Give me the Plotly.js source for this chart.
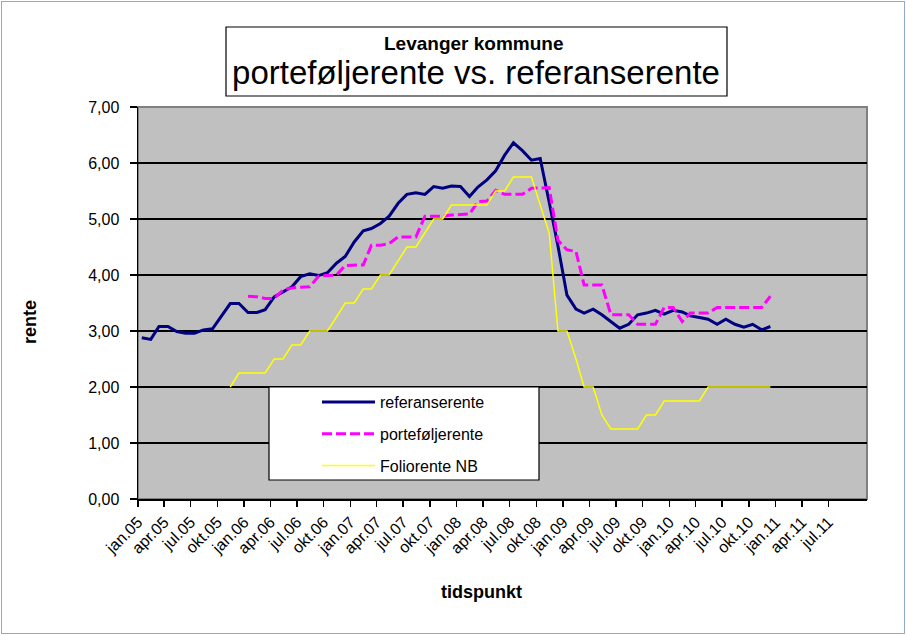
<!DOCTYPE html>
<html>
<head>
<meta charset="utf-8">
<script src="https://cdn.plot.ly/plotly-3.0.1.min.js"></script>
<style>
  html, body { margin: 0; padding: 0; background: #fff; }
  #wrap { position: relative; width: 906px; height: 635px; }
  #chart { width: 906px; height: 635px; }
  #frame { position: absolute; left: 1px; top: 1px; width: 902px; height: 631px; border: 1px solid #8fa9d0; pointer-events: none; }
</style>
</head>
<body>
<div id="wrap"><div id="chart"></div><div id="frame"></div></div>
<script>
// Monthly observation dates (mid-month), jan.05 – des.10
const months = [
  '2005-01-14','2005-02-14','2005-03-14','2005-04-14','2005-05-14','2005-06-14','2005-07-14','2005-08-14','2005-09-14','2005-10-14','2005-11-14','2005-12-14',
  '2006-01-14','2006-02-14','2006-03-14','2006-04-14','2006-05-14','2006-06-14','2006-07-14','2006-08-14','2006-09-14','2006-10-14','2006-11-14','2006-12-14',
  '2007-01-14','2007-02-14','2007-03-14','2007-04-14','2007-05-14','2007-06-14','2007-07-14','2007-08-14','2007-09-14','2007-10-14','2007-11-14','2007-12-14',
  '2008-01-14','2008-02-14','2008-03-14','2008-04-14','2008-05-14','2008-06-14','2008-07-14','2008-08-14','2008-09-14','2008-10-14','2008-11-14','2008-12-14',
  '2009-01-14','2009-02-14','2009-03-14','2009-04-14','2009-05-14','2009-06-14','2009-07-14','2009-08-14','2009-09-14','2009-10-14','2009-11-14','2009-12-14',
  '2010-01-14','2010-02-14','2010-03-14','2010-04-14','2010-05-14','2010-06-14','2010-07-14','2010-08-14','2010-09-14','2010-10-14','2010-11-14','2010-12-14'
];

const referanserente = [
  2.88, 2.85, 3.08, 3.08, 2.99, 2.96, 2.96, 3.02, 3.04, 3.26, 3.49, 3.49,
  3.33, 3.33, 3.38, 3.61, 3.70, 3.79, 3.97, 4.02, 3.99, 4.04, 4.21, 4.33,
  4.59, 4.79, 4.83, 4.92, 5.05, 5.28, 5.44, 5.47, 5.44, 5.58, 5.55, 5.59,
  5.58, 5.40, 5.57, 5.70, 5.86, 6.14, 6.36, 6.22, 6.05, 6.08, 5.30, 4.52,
  3.64, 3.39, 3.32, 3.39, 3.29, 3.17, 3.05, 3.12, 3.29, 3.32, 3.37, 3.30,
  3.37, 3.34, 3.27, 3.24, 3.21, 3.12, 3.21, 3.12, 3.07, 3.12, 3.02, 3.08
];

const portefoljerente = [
  null, null, null, null, null, null, null, null, null, null, null, null,
  3.62, 3.61, 3.58, 3.58, 3.73, 3.77, 3.78, 3.79, 3.98, 3.99, 4.00, 4.17,
  4.17, 4.18, 4.53, 4.53, 4.56, 4.68, 4.68, 4.68, 5.05, 5.05, 5.05, 5.07,
  5.08, 5.09, 5.31, 5.32, 5.51, 5.44, 5.44, 5.44, 5.55, 5.56, 5.56, 4.62,
  4.45, 4.42, 3.82, 3.82, 3.82, 3.29, 3.29, 3.29, 3.12, 3.12, 3.12, 3.42,
  3.42, 3.17, 3.32, 3.32, 3.32, 3.42, 3.42, 3.42, 3.42, 3.42, 3.42, 3.62
];

const foliorenteNB = [
  null, null, null, null, null, null, null, null, null, null, 2.00, 2.25,
  2.25, 2.25, 2.25, 2.50, 2.50, 2.75, 2.75, 3.00, 3.00, 3.00, 3.25, 3.50,
  3.50, 3.75, 3.75, 4.00, 4.00, 4.25, 4.50, 4.50, 4.75, 5.00, 5.00, 5.25,
  5.25, 5.25, 5.25, 5.25, 5.50, 5.50, 5.75, 5.75, 5.75, 5.25, 4.75, 3.00,
  3.00, 2.50, 2.00, 2.00, 1.50, 1.25, 1.25, 1.25, 1.25, 1.50, 1.50, 1.75,
  1.75, 1.75, 1.75, 1.75, 2.00, 2.00, 2.00, 2.00, 2.00, 2.00, 2.00, 2.00
];

const tickDates = [
  '2005-01-01','2005-04-01','2005-07-01','2005-10-01',
  '2006-01-01','2006-04-01','2006-07-01','2006-10-01',
  '2007-01-01','2007-04-01','2007-07-01','2007-10-01',
  '2008-01-01','2008-04-01','2008-07-01','2008-10-01',
  '2009-01-01','2009-04-01','2009-07-01','2009-10-01',
  '2010-01-01','2010-04-01','2010-07-01','2010-10-01',
  '2011-01-01','2011-04-01','2011-07-01'
];
const tickLabels = [
  'jan.05','apr.05','jul.05','okt.05',
  'jan.06','apr.06','jul.06','okt.06',
  'jan.07','apr.07','jul.07','okt.07',
  'jan.08','apr.08','jul.08','okt.08',
  'jan.09','apr.09','jul.09','okt.09',
  'jan.10','apr.10','jul.10','okt.10',
  'jan.11','apr.11','jul.11'
];
const yTicks = [0, 1, 2, 3, 4, 5, 6, 7];

const FONT = 'Liberation Sans, Arial, Helvetica, sans-serif';

const traces = [
  { x: months, y: referanserente, name: 'referanserente', type: 'scatter', mode: 'lines',
    legendgroup: 'a', line: { color: '#000080', width: 3 } },
  { x: months, y: portefoljerente, name: 'porteføljerente', type: 'scatter', mode: 'lines',
    legendgroup: 'b', line: { color: '#ff00ff', width: 3, dash: '10px,4px' } },
  { x: months, y: foliorenteNB, name: 'Foliorente NB', type: 'scatter', mode: 'lines',
    legendgroup: 'c', line: { color: '#ffff00', width: 1.5 } }
];

const layout = {
  width: 906, height: 635,
  margin: { l: 138, r: 39, t: 107, b: 136 },
  paper_bgcolor: '#ffffff',
  plot_bgcolor: '#c0c0c0',
  separators: ', ',
  font: { family: FONT, size: 16, color: '#000' },
  title: {
    text: 'porteføljerente vs. referanserente',
    font: { family: FONT, size: 33, color: '#000' },
    x: 476 / 906, xanchor: 'center', xref: 'container',
    y: 1 - 72 / 635, yanchor: 'middle', yref: 'container'
  },
  showlegend: true,
  legend: {
    x: (317 - 138) / 729, xanchor: 'left',
    y: (499 - 385) / 392, yanchor: 'top',
    bgcolor: 'rgba(0,0,0,0)', borderwidth: 0,
    font: { family: FONT, size: 16, color: '#000' },
    itemwidth: 53,
    tracegroupgap: 8, traceorder: 'grouped'
  },
  xaxis: {
    type: 'date',
    range: ['2005-01-01', '2011-11-11'],
    tickmode: 'array', tickvals: tickDates, ticktext: tickLabels,
    tickangle: -45,
    tickfont: { family: FONT, size: 16, color: '#000' },
    ticks: 'outside', ticklen: 6, tickwidth: 1.5, tickcolor: '#000',
    showline: true, linecolor: '#000', linewidth: 1.5,
    showgrid: false, zeroline: false, fixedrange: true
  },
  yaxis: {
    range: [0, 7],
    tickmode: 'array', tickvals: yTicks,
    tickformat: '.2f',
    tickfont: { family: FONT, size: 16, color: '#000' },
    ticks: 'outside', ticklen: 7, tickwidth: 1.5, tickcolor: '#000',
    ticklabelstandoff: 7,
    showline: true, linecolor: '#000', linewidth: 1.5,
    showgrid: true, gridcolor: '#000', gridwidth: 1.2,
    zeroline: false, fixedrange: true
  },
  shapes: [
    // plot-area border
    { type: 'rect', xref: 'paper', yref: 'paper', x0: 0, x1: 1, y0: 0, y1: 1,
      line: { color: '#808080', width: 2 }, layer: 'below' },
    // title box
    { type: 'rect', xref: 'paper', yref: 'paper',
      x0: (226 - 138) / 729, x1: (727 - 138) / 729,
      y0: (499 - 96) / 392, y1: (499 - 27) / 392,
      line: { color: '#000', width: 1.2 }, fillcolor: '#ffffff', layer: 'below' },
    // legend box
    { type: 'rect', xref: 'paper', yref: 'paper',
      x0: (269 - 138) / 729, x1: (539 - 138) / 729,
      y0: (499 - 480) / 392, y1: (499 - 387) / 392,
      line: { color: '#000', width: 1.2 }, fillcolor: '#ffffff', layer: 'above' }
  ],
  annotations: [
    { text: '<b>Levanger kommune</b>', xref: 'paper', yref: 'paper',
      x: (474 - 138) / 729, y: (499 - 43) / 392, xanchor: 'center', yanchor: 'middle',
      showarrow: false, font: { family: FONT, size: 19, color: '#000' } },
    { text: '<b>rente</b>', xref: 'paper', yref: 'paper',
      x: (30 - 138) / 729, y: (499 - 322) / 392, xanchor: 'center', yanchor: 'middle',
      textangle: -90, showarrow: false, font: { family: FONT, size: 18, color: '#000' } },
    { text: '<b>tidspunkt</b>', xref: 'paper', yref: 'paper',
      x: (481 - 138) / 729, y: (499 - 592) / 392, xanchor: 'center', yanchor: 'middle',
      showarrow: false, font: { family: FONT, size: 18, color: '#000' } }
  ]
};

Plotly.newPlot('chart', traces, layout, { staticPlot: true, displayModeBar: false });
</script>
</body>
</html>
